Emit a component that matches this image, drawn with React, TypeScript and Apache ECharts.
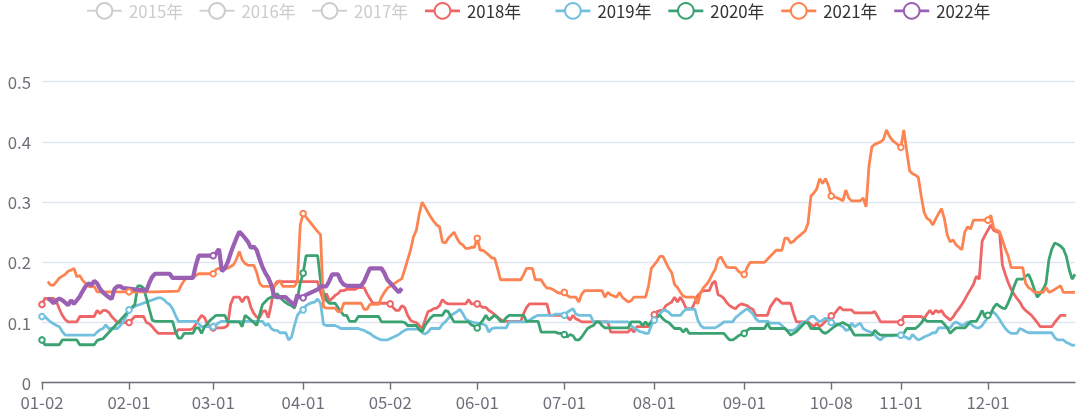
import React, { useEffect, useRef } from "react";
import * as echarts from "echarts";

type Run = [number | null, number];
const _ = null;

// Category axis: month, first day present, last day present (union of trading days)
const MONTH_SPANS: [string, number, number][] = [
  ["01", 2, 31], ["02", 1, 29], ["03", 1, 31], ["04", 1, 30], ["05", 2, 31], ["06", 1, 30],
  ["07", 1, 31], ["08", 1, 31], ["09", 1, 30], ["10", 8, 31], ["11", 1, 30], ["12", 1, 31],
];

const SERIES_NAMES = ["2015年", "2016年", "2017年", "2018年", "2019年", "2020年", "2021年", "2022年"];
const LEGEND_LEFT_GROUP = ["2015年", "2016年", "2017年", "2018年"];
const LEGEND_RIGHT_GROUP = ["2019年", "2020年", "2021年", "2022年"];
const HIDDEN = ["2015年", "2016年", "2017年"];
const COLORS = ["#5470c6", "#91cc75", "#fac858", "#ee6666", "#73c0de", "#3ba272", "#fc8452", "#9a60b4"];
const Y_MIN = 0;
const Y_MAX = 0.5;
const Y_STEP = 0.1;

// values as [value, number of consecutive days], month by month
const runs2018: Run[] = [
  [0.13,1],[0.14,4],[0.135,1],[0.122,1],[0.112,1],[0.105,1],[0.101,4],[0.11,6],[0.12,1],[0.115,1],[0.12,2],[0.117,1],[0.11,1],[0.105,1],[0.10,4],
  [0.10,1],[0.105,1],[0.11,4],[0.10,1],[0.098,1],[0.093,1],[0.087,1],[0.082,7],[0.088,5],[0.09,1],[0.097,1],[0.105,1],[0.112,1],[0.108,1],[0.098,1],[0.092,1],
  [0.091,4],[0.092,1],[0.095,1],[0.13,1],[0.142,3],[0.134,1],[0.142,2],[0.125,1],[0.115,1],[0.109,1],[0.108,1],[0.118,1],[0.12,1],[0.108,1],[0.13,1],[0.16,1],[0.168,9],
  [_,1],[0.168,5],[0.15,1],[0.136,1],[0.148,1],[0.136,1],[0.14,1],[0.145,1],[0.148,1],[0.153,2],[0.155,4],[0.158,3],[0.148,1],[0.14,1],[0.132,6],
  [0.131,1],[0.125,1],[0.12,2],[0.128,1],[0.125,1],[0.112,1],[0.104,1],[0.101,1],[0.1,1],[0.095,1],[0.089,1],[0.104,1],[0.118,1],[0.12,1],[0.123,1],[0.124,1],[0.128,1],[0.138,1],[0.133,1],[0.131,7],[0.138,1],[0.131,2],
  [0.131,1],[0.128,1],[0.125,2],[0.12,1],[0.117,1],[0.113,1],[0.109,1],[0.105,1],[0.102,7],[0.115,1],[0.125,1],[0.131,7],[0.112,5],
  [_,1],[0.109,1],[0.104,1],[0.112,1],[0.106,1],[0.104,1],[0.101,10],[0.084,7],[0.09,1],[0.084,1],[0.093,5],[0.1,1],
  [0.113,1],[0.118,1],[0.12,2],[0.128,1],[0.131,1],[0.134,1],[0.142,1],[0.134,1],[0.142,1],[0.134,1],[0.123,3],[0.134,1],[0.145,1],[0.15,1],[0.153,3],[0.165,1],[0.169,1],[0.146,1],[0.144,1],[0.14,1],[0.133,1],[0.128,1],[0.125,1],[0.123,1],[0.128,1],[0.131,1],
  [_,1],[0.128,1],[0.124,1],[0.122,1],[0.112,5],[0.126,1],[0.133,1],[0.14,1],[0.137,1],[0.132,4],[0.115,1],[0.101,5],[0.097,1],[0.093,1],[0.099,1],[0.093,1],[0.097,1],[0.102,1],[0.107,1],
  [0.111,1],[0.114,1],[0.12,1],[0.126,1],[0.121,4],[0.116,7],[0.118,1],[0.11,1],[0.101,7],
  [0.1,1],[0.11,7],[0.106,1],[0.114,1],[0.12,1],[0.114,1],[0.12,1],[0.117,1],[0.12,1],[0.112,1],[0.108,1],[0.104,1],[0.109,1],[0.117,1],[0.123,1],[0.13,1],[0.138,1],[0.147,1],[0.155,1],[0.163,1],[0.177,1],[0.172,1],[0.235,1],[0.245,1],
  [_,1],[0.262,1],[0.253,1],[0.251,1],[0.249,1],[0.195,1],[0.18,1],[0.166,1],[0.155,1],[0.147,1],[0.14,1],[0.134,1],[0.125,1],[0.12,1],[0.116,1],[0.112,1],[0.106,1],[0.1,1],[0.093,5],[0.1,1],[0.106,1],[0.112,3],[_,3],
];

const runs2019: Run[] = [
  [0.11,2],[0.105,1],[0.101,1],[0.098,1],[0.095,1],[0.093,1],[0.085,1],[0.079,11],[0.084,1],[0.088,1],[0.09,1],[0.096,1],[0.09,4],[0.095,1],[0.101,1],[0.11,1],
  [0.121,1],[0.124,1],[0.127,1],[_,7],[0.141,2],[0.138,1],[0.133,1],[0.13,1],[0.123,1],[0.112,1],[0.102,7],[0.098,1],[0.093,4],
  [0.093,1],[0.096,1],[0.1,1],[0.102,15],[0.095,1],[0.098,1],[0.09,1],[0.087,2],[0.083,3],[0.071,1],[0.076,1],[0.095,1],[0.112,1],[0.118,1],
  [0.121,1],[0.128,1],[0.131,1],[0.133,1],[0.134,1],[0.139,1],[0.132,1],[0.097,1],[0.095,4],[0.093,1],[0.09,7],[0.088,1],[0.087,1],[0.084,1],[0.082,1],[0.078,1],[0.075,1],[0.073,1],[0.071,3],
  [_,3],[0.08,1],[0.084,1],[0.087,1],[0.089,5],[0.083,1],[0.081,1],[0.084,1],[0.09,4],[0.097,1],[0.101,1],[0.107,1],[0.112,1],[0.115,1],[0.118,1],[0.122,1],[0.115,1],[0.106,1],[0.103,1],[0.101,1],[0.1,1],
  [_,1],[0.098,1],[0.097,1],[0.095,1],[0.084,1],[0.09,1],[0.091,5],[0.101,7],[0.104,1],[0.107,1],[0.11,1],[0.112,6],[0.114,3],
  [0.112,1],[0.117,1],[0.12,1],[0.123,1],[0.114,1],[0.112,5],[0.101,13],[0.095,1],[0.091,1],[0.088,1],[0.085,1],[0.084,1],[0.082,2],[0.095,1],
  [0.104,1],[0.11,1],[0.115,1],[0.12,2],[0.117,1],[0.112,4],[0.118,1],[0.122,4],[0.104,1],[0.095,1],[0.091,5],[0.094,1],[0.097,1],[0.101,4],[0.108,1],[0.112,1],[0.116,1],
  [_,1],[0.123,1],[0.119,1],[0.114,1],[0.106,1],[0.102,4],[0.099,4],[0.095,1],[0.09,1],[0.087,3],[0.09,1],[0.096,1],[0.1,2],[0.105,1],[0.11,2],[0.105,1],[0.101,1],[0.104,1],[0.107,1],[0.104,1],
  [0.1,1],[0.099,1],[0.097,1],[0.095,1],[0.093,1],[0.087,1],[0.088,1],[0.099,1],[0.093,1],[0.096,1],[0.099,1],[0.09,1],[0.087,1],[0.085,1],[0.083,1],[0.079,1],[0.074,1],[0.071,1],[0.076,1],[0.078,3],[0.079,2],
  [0.079,1],[0.077,1],[0.075,1],[0.072,1],[0.08,1],[0.075,1],[0.071,1],[0.073,1],[0.076,1],[0.078,1],[0.08,1],[0.083,2],[0.091,5],[0.098,1],[0.101,1],[0.098,1],[0.095,1],[0.097,1],[0.101,1],[0.098,1],[0.094,1],[0.091,2],[0.095,1],[0.102,1],
  [_,1],[0.115,1],[0.117,1],[0.112,1],[0.105,1],[0.097,1],[0.09,1],[0.085,1],[0.082,3],[0.09,1],[0.088,1],[0.085,1],[0.083,9],[0.075,1],[0.071,3],[0.067,1],[0.065,1],[0.062,1],[0.063,1],
];

const runs2020: Run[] = [
  [0.071,1],[0.063,6],[0.071,6],[0.063,6],[0.07,1],[0.072,1],[0.073,1],[_,8],
  [_,2],[0.13,1],[0.161,2],[0.157,1],[0.14,1],[0.122,1],[0.104,1],[0.102,7],[0.085,1],[0.074,2],[0.082,4],[0.091,2],[0.082,1],[0.093,1],[0.098,1],[0.104,1],
  [_,1],[0.112,4],[0.101,5],[0.093,1],[0.112,1],[0.108,1],[0.104,1],[0.1,1],[0.095,1],[0.113,1],[0.13,1],[0.135,1],[0.14,1],[0.142,2],[0.148,1],[0.142,1],[0.137,1],[0.133,1],[0.13,1],[0.128,1],[0.124,1],[0.14,1],[0.165,1],
  [0.182,1],[0.211,5],[0.17,1],[0.15,1],[0.137,1],[0.132,3],[0.125,1],[0.118,1],[0.112,2],[0.102,3],[0.11,8],[0.101,3],
  [_,4],[0.101,1],[0.1,1],[0.095,4],[0.088,1],[0.085,1],[0.095,1],[0.102,1],[0.108,1],[0.112,4],[0.12,1],[0.118,1],[0.109,1],[0.101,6],[0.096,1],[0.094,1],
  [0.091,1],[0.098,1],[0.104,1],[0.112,1],[0.104,1],[0.108,1],[0.112,1],[0.108,1],[0.102,2],[0.108,1],[0.112,6],[0.102,5],[0.084,6],[0.082,2],
  [0.08,1],[0.076,1],[0.08,1],[0.078,1],[0.071,2],[0.076,1],[0.083,1],[0.09,1],[0.093,1],[0.095,1],[0.101,2],[0.095,1],[0.091,9],[0.101,4],[0.095,1],[0.101,1],[0.095,1],[0.102,1],
  [_,1],[0.109,1],[0.112,1],[0.106,1],[0.102,1],[0.1,1],[0.095,1],[0.09,3],[0.084,1],[0.09,1],[0.082,13],[0.076,1],[0.071,2],[0.074,1],[0.078,1],[0.08,1],
  [0.082,1],[0.087,1],[0.09,6],[0.099,1],[0.09,6],[0.085,1],[0.079,1],[0.082,1],[0.085,1],[0.09,1],[0.095,1],[0.1,1],[0.099,1],[0.09,4],[0.084,1],[0.082,1],[0.085,1],
  [_,1],[0.093,1],[0.096,1],[0.098,1],[0.1,1],[0.097,1],[0.095,1],[0.087,1],[0.079,7],[0.087,1],[0.082,1],[0.079,7],
  [_,1],[0.082,1],[0.09,4],[0.094,1],[0.099,1],[0.106,1],[0.102,6],[0.097,1],[0.091,1],[0.082,1],[0.087,1],[0.091,4],[0.096,1],[0.102,3],[0.11,1],[0.12,1],[0.109,1],
  [0.112,1],[0.115,1],[0.125,1],[0.131,1],[0.127,1],[0.124,1],[0.123,1],[0.133,1],[0.145,1],[0.16,1],[0.172,3],[0.177,1],[0.18,1],[0.169,1],[0.155,1],[0.142,1],[0.148,1],[0.155,1],[0.165,1],[0.204,1],[0.222,1],[0.232,1],[0.23,1],[0.227,1],[0.222,1],[0.21,1],[0.188,1],[0.172,1],[0.18,1],
];

const runs2021: Run[] = [
  [_,2],[0.168,1],[0.162,2],[0.168,1],[0.174,1],[0.177,1],[0.18,1],[0.185,1],[0.187,1],[0.19,1],[0.176,1],[0.178,1],[0.17,1],[0.165,1],[0.16,1],[0.159,1],[0.16,1],[0.151,11],
  [0.151,10],[_,7],[0.152,1],[0.162,1],[0.17,1],[0.174,3],[0.178,1],[0.181,5],
  [0.181,1],[0.188,1],[0.19,4],[0.193,1],[0.196,1],[0.205,1],[0.218,1],[0.204,1],[0.198,1],[0.195,3],[0.183,1],[0.165,1],[0.16,5],[0.165,1],[0.17,1],[0.16,5],[0.168,1],[0.262,1],
  [0.281,1],[0.275,1],[_,3],[0.251,1],[0.246,1],[0.126,1],[0.124,4],[0.118,2],[0.132,7],[0.122,2],[0.13,4],[0.142,1],[0.15,1],[0.157,1],
  [_,4],[0.173,1],[0.188,1],[0.204,1],[0.22,1],[0.242,1],[0.253,1],[0.28,1],[0.3,1],[0.292,1],[0.283,1],[0.275,1],[0.268,1],[0.262,1],[0.259,1],[0.234,1],[0.232,1],[0.24,1],[0.245,1],[0.25,1],[0.24,1],[0.232,1],[0.229,1],[0.223,2],[0.225,2],
  [0.24,1],[0.22,2],[0.216,1],[0.212,1],[0.207,2],[0.19,1],[0.171,8],[0.18,1],[0.19,3],[0.171,3],[0.163,1],[0.157,2],[0.155,1],[0.152,1],[0.149,2],
  [0.15,1],[0.145,1],[0.142,3],[0.134,1],[0.147,1],[0.153,7],[0.142,1],[0.15,1],[0.146,1],[0.144,1],[0.142,1],[0.15,1],[0.142,1],[0.138,1],[0.134,1],[0.136,1],[0.142,5],[0.16,1],[0.19,1],
  [_,1],[0.202,1],[0.21,2],[0.2,1],[0.19,1],[0.183,1],[0.163,1],[0.158,1],[0.15,1],[0.144,1],[0.142,4],[0.131,1],[0.15,1],[0.158,1],[0.163,1],[0.17,1],[0.18,1],[0.188,1],[0.205,1],[0.209,1],[0.2,1],[0.192,1],[0.191,3],[0.185,1],[0.182,1],
  [0.18,1],[0.191,1],[0.2,6],[0.205,1],[0.21,1],[0.215,1],[0.22,3],[0.24,2],[0.232,1],[0.235,1],[0.24,1],[0.244,1],[0.248,1],[0.252,1],[0.265,1],[0.31,1],[0.315,1],[0.322,1],[0.339,1],[0.331,1],[0.339,1],[0.328,1],
  [0.31,1],[0.309,1],[0.307,1],[0.305,1],[0.302,1],[0.32,1],[0.307,1],[0.302,4],[0.307,1],[0.292,1],[0.36,1],[0.392,1],[0.396,1],[0.398,1],[0.4,1],[0.404,1],[0.42,1],[0.41,1],[0.403,1],[0.399,1],[0.395,1],
  [0.391,1],[0.42,1],[0.385,1],[0.352,1],[0.347,1],[0.345,1],[0.341,1],[0.31,1],[0.283,1],[0.273,1],[0.27,1],[0.262,1],[0.272,1],[0.281,1],[0.289,1],[0.272,1],[0.245,1],[0.234,1],[0.237,1],[0.229,1],[0.225,1],[0.221,1],[0.25,1],[0.259,1],[0.255,1],[0.27,5],
  [0.27,1],[0.278,1],[0.256,1],[0.253,1],[0.251,1],[0.237,1],[0.222,1],[0.21,1],[0.191,5],[0.165,1],[0.158,1],[0.155,1],[0.15,4],[0.158,1],[0.15,1],[0.152,1],[0.155,1],[0.158,1],[0.161,1],[0.15,5],
];

const runs2022: Run[] = [
  [_,2],[0.14,1],[0.137,1],[0.132,1],[0.137,1],[0.14,1],[0.137,1],[0.133,1],[0.129,1],[0.137,1],[0.131,1],[0.137,1],[0.143,1],[0.152,1],[0.16,1],[0.165,1],[0.162,1],[0.169,1],[0.165,1],[0.156,1],[0.15,1],[0.146,1],[0.142,1],[0.139,1],[0.156,1],[0.16,2],[0.157,1],[_,1],
  [_,6],[0.153,1],[0.166,1],[0.176,1],[0.181,6],[0.174,8],[0.195,1],[0.211,5],
  [0.211,1],[0.215,1],[0.222,1],[0.185,1],[0.19,1],[0.2,1],[0.215,1],[0.228,1],[0.24,1],[0.251,1],[0.246,1],[0.24,1],[0.234,1],[0.224,1],[0.226,1],[0.22,1],[0.205,1],[0.192,1],[0.182,1],[0.174,1],[0.163,1],[0.144,1],[0.142,4],[0.137,1],[0.133,1],[0.128,1],[0.146,1],[0.142,1],
  [0.141,1],[0.146,1],[_,3],[0.155,1],[0.16,3],[0.169,1],[0.18,3],[0.169,1],[0.163,1],[0.161,6],[0.168,1],[0.179,1],[0.19,5],[0.182,1],[0.171,1],
  [_,3],[0.15,1],[0.157,1],[_,25],
];

const FONT = "'Noto Sans CJK SC', 'Noto Sans', sans-serif";

function buildCategories(): string[] {
  const out: string[] = [];
  for (const [m, a, b] of MONTH_SPANS) {
    for (let d = a; d <= b; d++) out.push(`${m}-${d < 10 ? "0" + d : d}`);
  }
  return out;
}

function expand(runs: Run[], len: number): (number | null)[] {
  const out: (number | null)[] = [];
  for (const [v, n] of runs) for (let k = 0; k < n; k++) out.push(v);
  while (out.length < len) out.push(null);
  return out.slice(0, len);
}

export default function App() {
  const ref = useRef<HTMLDivElement>(null);
  useEffect(() => {
    if (!ref.current) return;
    const chart = echarts.init(ref.current, undefined, { renderer: "svg" });
    const categories = buildCategories();
    const monthStart = new Set<number>();
    categories.forEach((c, i) => {
      if (i === 0 || c.slice(0, 2) !== categories[i - 1].slice(0, 2)) monthStart.add(i);
    });
    const showAt = (i: number) => monthStart.has(i);
    const dataMap: Record<string, (number | null)[]> = {
      "2018年": expand(runs2018, categories.length),
      "2019年": expand(runs2019, categories.length),
      "2020年": expand(runs2020, categories.length),
      "2021年": expand(runs2021, categories.length),
      "2022年": expand(runs2022, categories.length),
    };
    const selected: Record<string, boolean> = {};
    HIDDEN.forEach((n) => (selected[n] = false));

    const legendBase = {
      selected,
      top: 2,
      padding: 0,
      itemWidth: 35,
      itemHeight: 19.6,
      itemGap: 15.5,
      inactiveColor: "#ccc",
      lineStyle: { width: 2.8 },
      itemStyle: { borderWidth: 2.8 },
      textStyle: { fontSize: 16.8, color: "#333", fontFamily: FONT, padding: [0, 0, 0, 2] },
    };

    chart.setOption({
      animation: false,
      color: COLORS,
      textStyle: { fontFamily: FONT },
      legend: [
        { ...legendBase, data: LEGEND_LEFT_GROUP, left: 86 },
        { ...legendBase, data: LEGEND_RIGHT_GROUP, left: 554 },
      ],
      grid: { left: 42, right: 5, top: 81.7, bottom: 32.3 },
      xAxis: {
        type: "category",
        boundaryGap: false,
        data: categories,
        axisLine: { lineStyle: { color: "#6E7079", width: 1.4 } },
        axisTick: { length: 7, interval: showAt, lineStyle: { width: 1.4 } },
        axisLabel: { interval: showAt, fontSize: 16.8, color: "#6E7079", margin: 11, fontFamily: FONT },
      },
      yAxis: {
        type: "value",
        min: Y_MIN,
        max: Y_MAX,
        interval: Y_STEP,
        axisLabel: { fontSize: 16.8, color: "#6E7079", margin: 11, fontFamily: FONT },
        splitLine: { lineStyle: { color: "#E0E6F1", width: 1.4 } },
      },
      series: SERIES_NAMES.map((name) => ({
        name,
        type: "line",
        data: dataMap[name] || [],
        connectNulls: true,
        symbol: "emptyCircle",
        symbolSize: 5.6,
        itemStyle: { borderWidth: 2 },
        lineStyle: { width: name === "2022年" ? 4.2 : 2.8 },
      })),
    });
    return () => chart.dispose();
  }, []);
  return <div ref={ref} style={{ position: "fixed", left: 0, top: 0, width: 1080, height: 415 }} />;
}
